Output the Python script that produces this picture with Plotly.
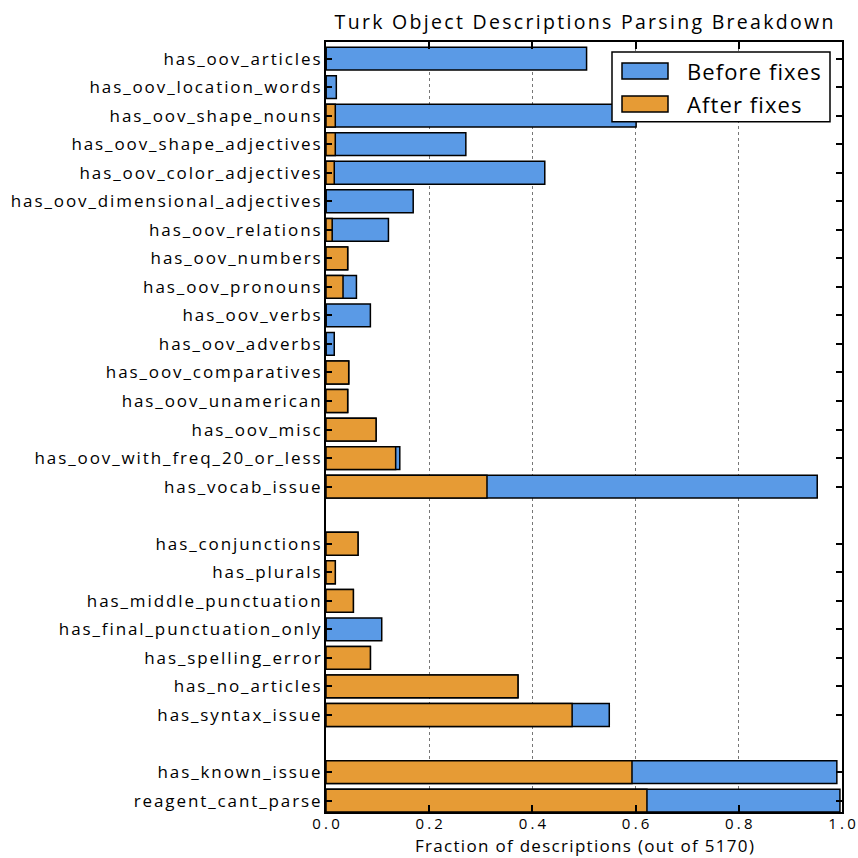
import plotly.graph_objects as go

categories = [
    "has_oov_articles", "has_oov_location_words", "has_oov_shape_nouns",
    "has_oov_shape_adjectives", "has_oov_color_adjectives",
    "has_oov_dimensional_adjectives", "has_oov_relations", "has_oov_numbers",
    "has_oov_pronouns", "has_oov_verbs", "has_oov_adverbs",
    "has_oov_comparatives", "has_oov_unamerican", "has_oov_misc",
    "has_oov_with_freq_20_or_less", "has_vocab_issue",
    "",
    "has_conjunctions", "has_plurals", "has_middle_punctuation",
    "has_final_punctuation_only", "has_spelling_error", "has_no_articles",
    "has_syntax_issue",
    " ",
    "has_known_issue", "reagent_cant_parse",
]
before_fixes = [
    0.505, 0.020, 0.601, 0.271, 0.424, 0.169, 0.121, 0.042, 0.059, 0.086,
    0.016, 0.044, 0.042, 0.097, 0.143, 0.952,
    None,
    0.062, 0.018, 0.053, 0.108, 0.086, 0.372, 0.549,
    None,
    0.990, 0.996,
]
after_fixes = [
    0.0, 0.0, 0.018, 0.018, 0.016, 0.0, 0.012, 0.042, 0.033, 0.0,
    0.0, 0.044, 0.042, 0.097, 0.135, 0.312,
    None,
    0.062, 0.018, 0.053, 0.0, 0.086, 0.372, 0.477,
    None,
    0.593, 0.622,
]
x_ticks = [0.0, 0.2, 0.4, 0.6, 0.8, 1.0]
x_title = "Fraction of descriptions (out of 5170)"

BLUE = "#5A9AE6"
ORANGE = "#E69B35"
FONT = "Open Sans"

pos = list(range(len(categories)))
tick_pos = [p for p, c in zip(pos, categories) if c.strip()]
tick_txt = [c for c in categories if c.strip()]

fig = go.Figure()
fig.add_trace(go.Bar(
    y=pos, x=before_fixes, orientation="h", width=0.8, name="Before fixes",
    marker=dict(color=BLUE, line=dict(color="black", width=1.5)),
))
fig.add_trace(go.Bar(
    y=pos, x=after_fixes, orientation="h", width=0.8, name="After fixes",
    marker=dict(color=ORANGE, line=dict(color="black", width=1.5)),
))

L, R, T, B = 326, 842, 42, 812
W, H = R - L, B - T
fig.update_layout(
    width=858, height=858,
    margin=dict(l=L, r=858 - R, t=T, b=858 - B, autoexpand=False),
    barmode="overlay",
    showlegend=False,
    plot_bgcolor="white", paper_bgcolor="white",
    font=dict(family=FONT, size=17, color="black"),
    title=dict(text="Turk Object Descriptions Parsing Breakdown",
               x=(L + R) / 2 / 858, xanchor="center",
               y=1 - 22 / 858, yanchor="middle",
               font=dict(size=19.5, family=FONT)),
    xaxis=dict(
        range=[0, 1], tickvals=x_ticks, ticktext=[f"{v:.1f}" for v in x_ticks],
        showline=True, linecolor="black", linewidth=2, mirror="ticks",
        ticks="inside", ticklen=7, tickcolor="black", tickwidth=1.5,
        showgrid=True, gridcolor="#777777", griddash="dot", gridwidth=1,
        zeroline=False, ticklabelstandoff=-3, automargin=False,
        tickfont=dict(size=15),
    ),
    yaxis=dict(
        range=[26.4, -0.58], tickvals=tick_pos, ticktext=tick_txt,
        showline=True, linecolor="black", linewidth=2, mirror="ticks",
        ticks="inside", ticklen=6, tickcolor="black", tickwidth=1.5,
        showgrid=False, zeroline=False, ticklabelstandoff=0, automargin=False,
        tickfont=dict(size=17),
    ),
)

# x-axis title
fig.add_annotation(xref="paper", yref="paper", x=0.5, y=(B - 857.5) / H,
                   text=x_title, showarrow=False, xanchor="center",
                   yanchor="bottom", borderpad=0,
                   font=dict(size=17, family=FONT))

# Legend box (drawn as decoration)
fig.add_shape(type="rect", xref="paper", yref="paper",
              x0=(612 - L) / W, x1=(830 - L) / W,
              y0=(B - 121.7) / H, y1=(B - 52) / H,
              line=dict(color="black", width=1.5), fillcolor="white")
for (yc, col, label) in [(71, BLUE, "Before fixes"), (104, ORANGE, "After fixes")]:
    fig.add_shape(type="rect", xref="paper", yref="paper",
                  x0=(622 - L) / W, x1=(668 - L) / W,
                  y0=(B - (yc + 8)) / H, y1=(B - (yc - 8)) / H,
                  line=dict(color="black", width=1.5), fillcolor=col)
    fig.add_annotation(xref="paper", yref="paper",
                       x=(685 - L) / W, y=(B - yc) / H,
                       text=label, showarrow=False, xanchor="left",
                       yanchor="middle", font=dict(size=22, family=FONT))

post = """
var gd = document.getElementById('{plot_id}');
function sp(sel, v, dxf) {
  gd.querySelectorAll(sel).forEach(function(t) {
    var n = (t.textContent || '').length;
    var r = dxf(n, v, t.textContent || '');
    if (r === null) { return; }
    t.setAttribute('letter-spacing', r[0] + 'px');
    if (r[1]) { t.setAttribute('dx', r[1]); }
  });
}
sp('g.ytick text', 1.9, function(n, v) { return [v, v]; });
sp('g.xtick text', 3.2, function(n, v) { return [v, v / 2]; });
sp('.g-gtitle text', 2.3, function(n, v) { return [v, v / 2]; });
sp('.annotation-text', 1.1, function(n, v, s) {
  if (s.indexOf('Fraction') === 0) { return [1.3, 0.65]; }
  return [v, n * v / 2];
});
"""

fig.write_html("out.html", post_script=post)
